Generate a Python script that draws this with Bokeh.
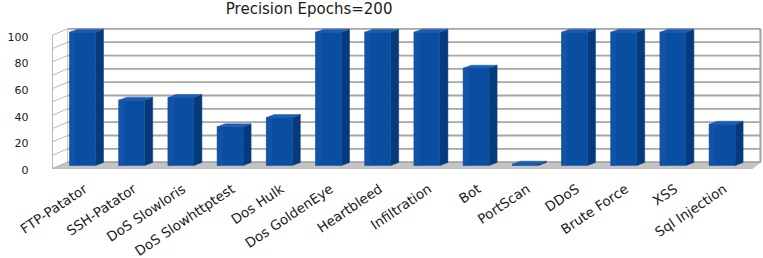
import math
from bokeh.plotting import figure
from bokeh.models import Range1d
from bokeh.core.properties import value
from bokeh.embed import file_html
from bokeh.resources import INLINE

# ---- data ----
categories = ["FTP-Patator", "SSH-Patator", "DoS Slowloris", "DoS Slowhttptest",
              "Dos Hulk", "Dos GoldenEye", "Heartbleed", "Infiltration", "Bot",
              "PortScan", "DDoS", "Brute Force", "XSS", "Sql Injection"]
precision = [100, 49, 51, 29, 36, 100, 100, 100, 73, 1, 100, 100, 100, 31]
y_ticks = [0, 20, 40, 60, 80, 100]
grid_levels = [0, 10, 20, 30, 40, 50, 60, 70, 80, 90, 100]
title_text = "Precision  Epochs=200"

FONT = "DejaVu Sans"

# ---- layout (pixel geometry of the pseudo-3D frame) ----
W, H = 763, 258
PX_X = 49.2          # px per category
PX_Y = 1.333         # px per value unit
X0 = 82.0            # px of first category centre (from left)
Y0 = 165.0           # px of value 0 (from top)

def fx(px):
    return (px - X0) / PX_X

def fy(px):
    return (Y0 - px) / PX_Y

p = figure(width=W, height=H, output_backend="svg", toolbar_location=None,
           x_range=Range1d(-X0 / PX_X, (W - X0) / PX_X),
           y_range=Range1d(-(H - Y0) / PX_Y, Y0 / PX_Y),
           x_axis_type=None, y_axis_type=None, min_border=0)
p.outline_line_color = None
p.background_fill_color = "white"
p.border_fill_color = "white"
p.xgrid.visible = False
p.ygrid.visible = False

FRONT_X0, FRONT_X1 = fx(52), fx(752)
BACK_X0, BACK_X1 = fx(67), fx(760)
FRONT_DY = -2.25     # value offset of front plane
BACK_DY = 2.5        # value offset of back wall

GRID_COL = "#A6A6A6"

# back wall
p.quad(left=BACK_X0, right=BACK_X1, bottom=BACK_DY, top=100 + BACK_DY,
       fill_color="white", line_color=None)
# floor
p.patch([FRONT_X0, FRONT_X1, BACK_X1, BACK_X0],
        [FRONT_DY, FRONT_DY, BACK_DY, BACK_DY],
        fill_color="#C4C4C4", line_color="#B5B5B5", line_width=0.8)
# back-wall gridlines
p.segment(x0=[BACK_X0] * len(grid_levels), x1=[BACK_X1] * len(grid_levels),
          y0=[g + BACK_DY for g in grid_levels], y1=[g + BACK_DY for g in grid_levels],
          line_color=GRID_COL, line_width=1.8)
# left wall lines
p.segment(x0=[FRONT_X0] * len(grid_levels), x1=[BACK_X0] * len(grid_levels),
          y0=[g + FRONT_DY for g in grid_levels], y1=[g + BACK_DY for g in grid_levels],
          line_color="#B8B8B8", line_width=1.0)
p.segment(x0=[FRONT_X0, BACK_X0, BACK_X1], x1=[FRONT_X0, BACK_X0, BACK_X1],
          y0=[FRONT_DY, BACK_DY, BACK_DY], y1=[100 + FRONT_DY, 100 + BACK_DY, 100 + BACK_DY],
          line_color=["#B8B8B8", "#C8C8C8", GRID_COL], line_width=[1.0, 1.0, 2.2])

# ---- bars ----
HW = 13.0 / PX_X       # half width of front face
DDX = 8.0 / PX_X       # depth shift in x
DDY = 3.0 / PX_Y       # depth shift in y
xs = list(range(len(categories)))

side_xs, side_ys, top_xs, top_ys = [], [], [], []
for i, v in zip(xs, precision):
    r = i + HW
    l = i - HW
    side_xs.append([r, r + DDX, r + DDX, r])
    side_ys.append([0, DDY, v + DDY, v])
    top_xs.append([l, l + DDX, r + DDX, r])
    top_ys.append([v, v + DDY, v + DDY, v])

p.patches(side_xs, side_ys, fill_color="#053A7C", line_color="#053A7C", line_width=0.5)
p.patches(top_xs, top_ys, fill_color="#1F5DB0", line_color="#1F5DB0", line_width=0.5)
p.quad(left=[i - HW for i in xs], right=[i + HW for i in xs],
       bottom=0, top=precision, fill_color="#0A4EA2", line_color="#0A4EA2", line_width=0.5)
# subtle highlight on the left part of the front face
p.quad(left=[i - HW for i in xs], right=[i - HW * 0.55 for i in xs],
       bottom=0, top=precision, fill_color="#1856AB", fill_alpha=0.6, line_color=None)

# ---- texts ----
p.text(x=[fx(28)] * len(y_ticks), y=[t - 3.4 for t in y_ticks],
       text=[str(t) for t in y_ticks], text_align="right", text_baseline="middle",
       text_font=value(FONT), text_font_size="11px", text_color="#1a1a1a")

p.text(x=[i + 3.0 / PX_X for i in xs], y=[fy(186.5)] * len(xs), text=categories,
       angle=math.radians(34), text_align="right", text_baseline="middle",
       text_font=value(FONT), text_font_size="13.5px", text_color="#1a1a1a")

p.text(x=[fx(311)], y=[fy(8.5)], text=[title_text], text_align="center",
       text_baseline="middle", text_font=value(FONT),
       text_font_size="15px", text_color="#1a1a1a")

open("out.html", "w").write(file_html(p, INLINE))
